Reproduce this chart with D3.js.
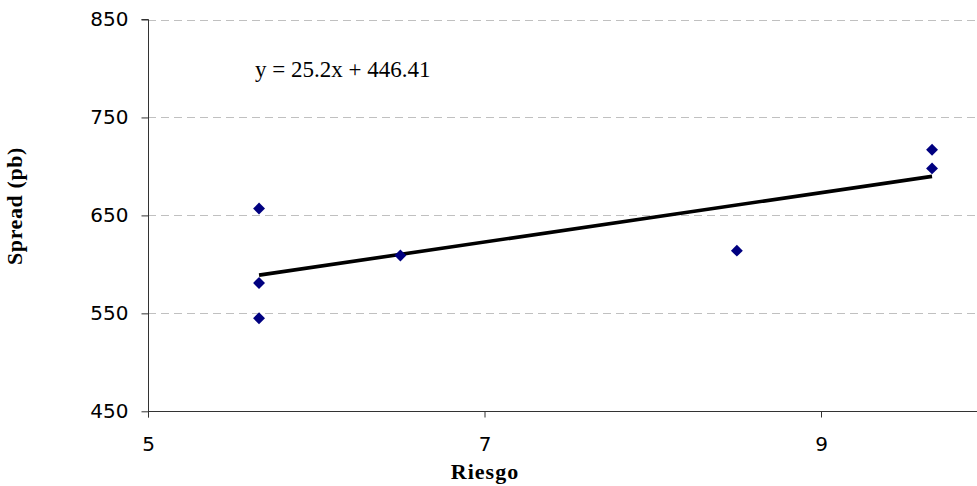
<!DOCTYPE html>
<html>
<head>
<meta charset="utf-8">
<script src="https://cdn.jsdelivr.net/npm/d3@7"></script>
<style>
  html, body { margin: 0; padding: 0; background: #fff; }
  svg { display: block; }
</style>
</head>
<body>
<svg id="chart" width="977" height="486"></svg>
<script>
// ---- data ----
const riesgo = [5.66, 5.66, 5.66, 6.5, 8.5, 9.66, 9.66];
const spread = [657, 581, 545, 609, 614, 717, 698];
const trendSlope = 25.2;
const trendIntercept = 446.41;
const trendLabel = "y = 25.2x + 446.41";
const xTicks = [5, 7, 9];
const yTicks = [450, 550, 650, 750, 850];
const xTitle = "Riesgo";
const yTitle = "Spread (pb)";

(function () {
// ---- layout ----
const svg = d3.select("#chart");
const W = 977, H = 486;
const plotLeft = 148, plotTop = 19.5, plotBottom = 411.3;

const x = d3.scaleLinear().domain([5, 10]).range([plotLeft, plotLeft + 841.25]);
const y = d3.scaleLinear().domain([450, 850]).range([plotBottom, plotTop]);

const tickFont = "'DejaVu Sans', Verdana, sans-serif";
const serif = "'Liberation Serif', 'DejaVu Serif', serif";

// gridlines
svg.append("g")
  .selectAll("line")
  .data(yTicks.filter(d => d !== 450))
  .join("line")
  .attr("x1", plotLeft).attr("x2", W)
  .attr("y1", d => Math.round(y(d)) + 0.5).attr("y2", d => Math.round(y(d)) + 0.5)
  .attr("stroke", "#c0c0c0")
  .attr("stroke-width", 1)
  .attr("stroke-dasharray", "8,5");

// y axis
const yAxis = d3.axisLeft(y).tickValues(yTicks).tickSize(7).tickPadding(13).tickFormat(d3.format("d"));
const gy = svg.append("g").attr("transform", `translate(${plotLeft + 0.5},0)`).call(yAxis);
gy.select(".domain").attr("stroke", "#333").attr("d", `M-7,${y(850)}H0V${plotBottom + 6}`);
gy.selectAll(".tick line").attr("stroke", "#333");
gy.selectAll(".tick text").attr("font-family", tickFont).attr("font-size", 20).attr("fill", "#000");

// x axis
const xAxis = d3.axisBottom(x).tickValues(xTicks).tickSize(6).tickPadding(19).tickFormat(d3.format("d"));
const gx = svg.append("g").attr("transform", `translate(0,${Math.round(plotBottom) + 0.5})`).call(xAxis);
gx.select(".domain").attr("stroke", "#333").attr("d", `M${plotLeft},0H${W}`);
gx.selectAll(".tick line").attr("stroke", "#333");
gx.selectAll(".tick text").attr("font-family", tickFont).attr("font-size", 20).attr("fill", "#000");

// trendline
const xMin = d3.min(riesgo), xMax = d3.max(riesgo);
svg.append("line")
  .attr("x1", x(xMin)).attr("y1", y(trendSlope * xMin + trendIntercept))
  .attr("x2", x(xMax)).attr("y2", y(trendSlope * xMax + trendIntercept))
  .attr("stroke", "#000").attr("stroke-width", 3.6);

// points
const pts = riesgo.map((r, i) => ({ r, s: spread[i] }));
const sym = d3.symbol().type(d3.symbolDiamond2).size(90);
svg.append("g")
  .selectAll("path")
  .data(pts)
  .join("path")
  .attr("transform", d => `translate(${x(d.r)},${y(d.s)})`)
  .attr("d", sym)
  .attr("fill", "#000080");

// equation label
svg.append("text")
  .attr("x", 255).attr("y", 77)
  .attr("font-family", serif).attr("font-size", 23)
  .attr("fill", "#000")
  .text(trendLabel);

// axis titles
svg.append("text")
  .attr("x", 485).attr("y", 479)
  .attr("text-anchor", "middle")
  .attr("font-family", serif).attr("font-size", 22).attr("font-weight", "bold")
  .attr("letter-spacing", 1)
  .text(xTitle);

svg.append("text")
  .attr("transform", "translate(22,206) rotate(-90)")
  .attr("text-anchor", "middle")
  .attr("font-family", serif).attr("font-size", 22).attr("font-weight", "bold")
  .attr("letter-spacing", 0.6)
  .text(yTitle);
})();
</script>
</body>
</html>
